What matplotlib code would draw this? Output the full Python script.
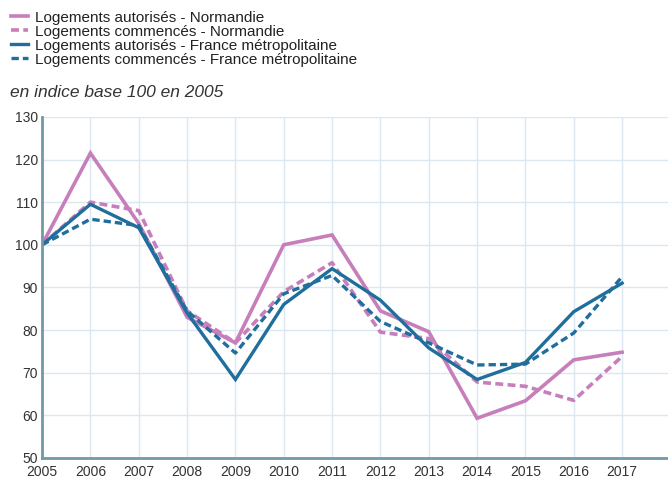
import matplotlib.pyplot as plt

years = list(range(2005, 2018))
aut_normandie = [100, 121.5, 105, 83, 77, 100, 102.3, 84.5, 79.6, 59.3, 63.4, 73, 74.8]
com_normandie = [100, 110, 108, 84.5, 77, 89, 95.8, 79.5, 78, 67.8, 66.8, 63.5, 73.8]
aut_france = [100, 109.5, 104, 84, 68.4, 86, 94.4, 87, 75.8, 68.4, 72.4, 84.3, 91]
com_france = [100, 106, 104.5, 84.5, 74.6, 88.5, 92.8, 82, 77, 71.8, 72, 79.3, 92.5]
labels = ["Logements autorisés - Normandie",
          "Logements commencés - Normandie",
          "Logements autorisés - France métropolitaine",
          "Logements commencés - France métropolitaine"]

pink = "#c77fbb"
blue = "#1f6e9c"
plt.rcParams['font.family'] = ['Liberation Sans', 'DejaVu Sans']

fig = plt.figure(figsize=(6.68, 4.79), dpi=100)
ax = fig.add_axes([0.063, 0.044, 0.937, 0.712])

dash = (0, (2.2, 1.2))
l1, = ax.plot(years, aut_normandie, color=pink, lw=2.6, solid_joinstyle='miter')
l2, = ax.plot(years, com_normandie, color=pink, lw=2.6, ls=dash)
l3, = ax.plot(years, aut_france, color=blue, lw=2.4, solid_joinstyle='miter')
l4, = ax.plot(years, com_france, color=blue, lw=2.4, ls=dash)

ax.set_xlim(2005, 2017.95)
ax.set_ylim(50, 130)
ax.set_xticks(years)
ax.set_yticks(range(50, 131, 10))
ax.grid(True, color="#dbe8f2", lw=1)
ax.set_axisbelow(True)
for s in ['top', 'right']:
    ax.spines[s].set_visible(False)
for s in ['left', 'bottom']:
    ax.spines[s].set_color("#6f9aa6")
    ax.spines[s].set_linewidth(2)
ax.tick_params(length=0, labelsize=10, colors="#333333", pad=3)
ax.tick_params(axis='x', pad=5)
for t in ax.get_yticklabels():
    t.set_va('center_baseline')

fig.legend([l1, l2, l3, l4], labels, loc='upper left', bbox_to_anchor=(0.0, 1.0),
           frameon=False, fontsize=11, handlelength=1.1, handletextpad=0.5,
           labelspacing=0.0, borderaxespad=0.3, labelcolor="#222222")
fig.text(0.015, 0.806, "en indice base 100 en 2005", fontsize=12.5, style='italic',
         color="#333333", va='center')

fig.savefig("out.png", dpi=100)
